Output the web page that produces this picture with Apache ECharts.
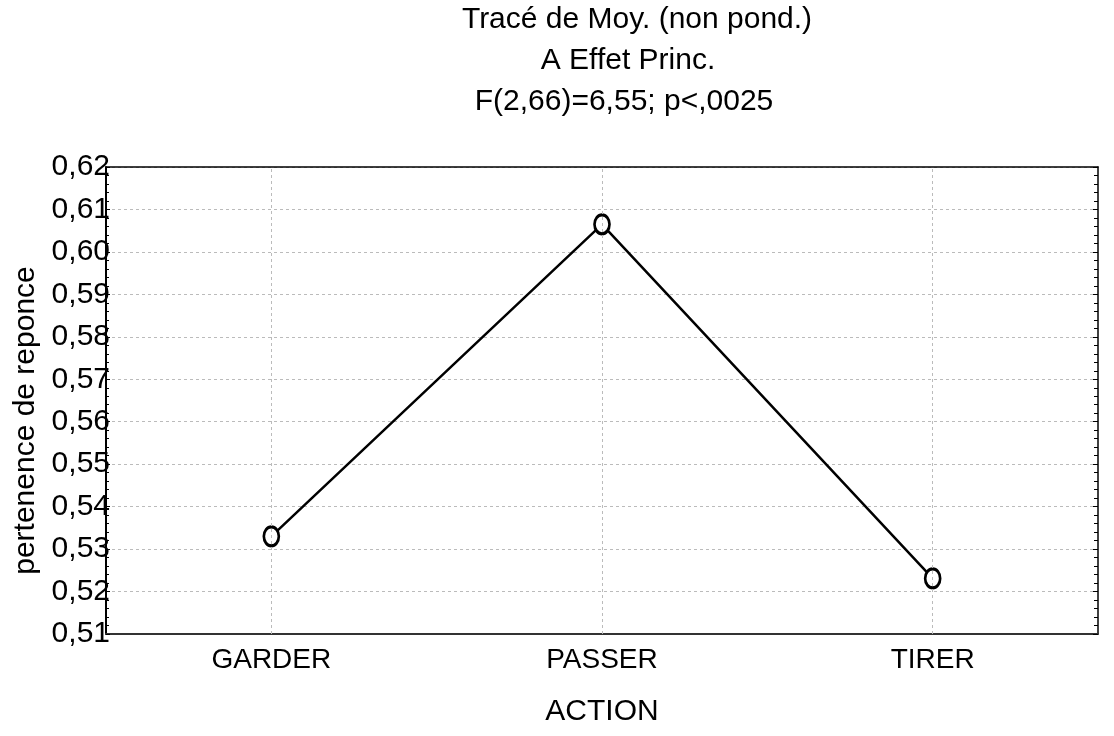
<!DOCTYPE html>
<html>
<head>
<meta charset="utf-8">
<script src="https://cdn.jsdelivr.net/npm/echarts@6/dist/echarts.min.js"></script>
<style>
  html, body { margin: 0; padding: 0; background: #fff; }
  #chart { width: 1114px; height: 736px; }
</style>
</head>
<body>
<div id="chart"></div>
<script>
// categories (ACTION)
const actions = ['GARDER', 'PASSER', 'TIRER']
// unweighted means
const means = [0.533, 0.6065, 0.5231]
// title lines
const titleLines = ['Tracé de Moy. (non pond.)', 'A Effet Princ.', 'F(2,66)=6,55; p<,0025']

const font = 'Liberation Sans, Arial, sans-serif'
const chart = echarts.init(document.getElementById('chart'), null, { renderer: 'canvas' })

// format numbers with a comma
const fmt = (v) => v.toFixed(2).replace('.', ',')

const yAxisBase = {
  type: 'value',
  min: 0.51,
  max: 0.62,
  interval: 0.01
}

const option = {
  backgroundColor: '#fff',
  animation: false,
  title: [
    { text: titleLines[0], left: 632, top: 0, textAlign: 'center' },
    { text: titleLines[1], left: 623, top: 41, textAlign: 'center' },
    { text: titleLines[2], left: 619, top: 82, textAlign: 'center' }
  ].map((t) => ({
    ...t,
    textStyle: { fontFamily: font, fontSize: 30, fontWeight: 'normal', color: '#000' }
  })),
  grid: {
    left: 106,
    right: 16,
    top: 167,
    bottom: 102,
    containLabel: false
  },
  xAxis: [
    {
      type: 'category',
      data: actions,
      boundaryGap: true,
      position: 'bottom',
      name: 'ACTION',
      nameLocation: 'middle',
      nameGap: 63,
      nameTextStyle: { fontFamily: font, fontSize: 30, color: '#000' },
      axisLine: { lineStyle: { color: '#333', width: 2 } },
      axisTick: { alignWithLabel: true, inside: true, length: 4, lineStyle: { color: '#000' } },
      axisLabel: { fontFamily: font, fontSize: 28, color: '#000', margin: 12 },
      splitLine: { show: false }
    },
    {
      type: 'category',
      data: actions,
      boundaryGap: true,
      position: 'top',
      axisLine: { lineStyle: { color: '#000', width: 1.5 } },
      axisTick: { alignWithLabel: true, inside: true, length: 4, lineStyle: { color: '#000' } },
      axisLabel: { show: false },
      splitLine: { show: false }
    }
  ],
  yAxis: [
    {
      ...yAxisBase,
      position: 'left',
      name: 'pertenence de reponce',
      nameLocation: 'middle',
      nameGap: 62,
      nameTextStyle: { fontFamily: font, fontSize: 30, color: '#000', padding: [0, 40, 0, 0] },
      axisLine: { show: true, lineStyle: { color: '#000', width: 2 } },
      axisTick: { show: true, inside: true, length: 4, lineStyle: { color: '#000' } },
      minorTick: { show: true, splitNumber: 5, length: 3, lineStyle: { color: '#000' } },
      axisLabel: {
        fontFamily: font,
        fontSize: 30,
        color: '#000',
        margin: -4,
        formatter: fmt
      },
      splitLine: { show: true, lineStyle: { color: '#bbb', type: [3, 3], width: 1 } }
    },
    {
      ...yAxisBase,
      position: 'right',
      axisLine: { show: true, lineStyle: { color: '#000', width: 1.5 } },
      axisTick: { show: true, inside: true, length: 5, lineStyle: { color: '#000' } },
      minorTick: { show: true, splitNumber: 5, length: 4, lineStyle: { color: '#000' } },
      axisLabel: { show: false },
      splitLine: { show: false }
    }
  ],
  series: [
    {
      // vertical dashed grid lines at each category
      type: 'line',
      data: [],
      z: 1,
      silent: true,
      markLine: {
        silent: true,
        symbol: 'none',
        label: { show: false },
        lineStyle: { color: '#bbb', type: [3, 3], width: 1 },
        data: actions.map((a) => ({ xAxis: a }))
      }
    },
    {
      type: 'line',
      data: means,
      z: 3,
      symbol: 'circle',
      symbolSize: [15, 19],
      itemStyle: { color: '#fff', borderColor: '#000', borderWidth: 3 },
      lineStyle: { color: '#000', width: 2.5 }
    }
  ]
}

chart.setOption(option)
</script>
</body>
</html>
